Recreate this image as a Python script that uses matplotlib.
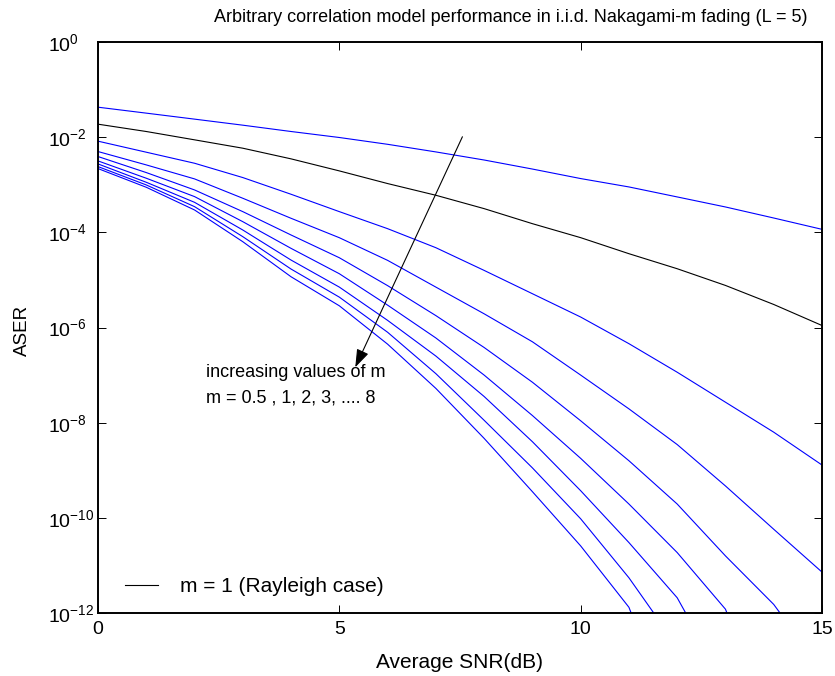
import numpy as np
import matplotlib
matplotlib.use("Agg")
import matplotlib.pyplot as plt
from matplotlib.ticker import NullLocator
from matplotlib.lines import Line2D

plt.rcParams['font.family'] = ['Liberation Sans', 'DejaVu Sans']
plt.rcParams['mathtext.fontset'] = 'custom'
plt.rcParams['mathtext.rm'] = 'Liberation Sans'
plt.rcParams['mathtext.default'] = 'rm'

# average SNR in dB, one point per dB
snr_db = np.arange(16)

# log10(ASER), one list per m (values below 1e-12 are off-axis)
log_aser_m05 = [-1.37, -1.495, -1.621, -1.748, -1.881, -2.007, -2.15, -2.31, -2.48, -2.67,
                -2.87, -3.046, -3.256, -3.467, -3.699, -3.937]
log_aser_m1 = [-1.727, -1.881, -2.056, -2.232, -2.456, -2.709, -2.975, -3.221, -3.502, -3.818,
               -4.112, -4.449, -4.765, -5.116, -5.516, -5.958]
log_aser_m2 = [-2.084, -2.316, -2.548, -2.849, -3.200, -3.565, -3.923, -4.323, -4.80, -5.29,
               -5.78, -6.34, -6.94, -7.57, -8.20, -8.89]
log_aser_m3 = [-2.302, -2.583, -2.877, -3.284, -3.705, -4.113, -4.589, -5.151, -5.712, -6.30,
               -7.0, -7.71, -8.46, -9.33, -10.24, -11.14]
log_aser_m4 = [-2.407, -2.744, -3.109, -3.565, -4.056, -4.534, -5.12, -5.75, -6.42, -7.15,
               -7.96, -8.80, -9.71, -10.80, -11.82, -13.2]
log_aser_m5 = [-2.499, -2.863, -3.249, -3.776, -4.337, -4.870, -5.53, -6.22, -7.0, -7.85,
               -8.75, -9.71, -10.73, -11.92, -14.5, -17.0]
log_aser_m6 = [-2.562, -2.948, -3.369, -3.951, -4.583, -5.151, -5.85, -6.6, -7.45, -8.4,
               -9.43, -10.52, -11.68, -13.5, -16.0, -18.0]
log_aser_m7 = [-2.618, -3.004, -3.460, -4.091, -4.772, -5.362, -6.1, -6.97, -7.95, -8.95,
               -10.02, -11.26, -12.7, -15.0, -17.0, -19.0]
log_aser_m8 = [-2.660, -3.053, -3.530, -4.197, -4.934, -5.544, -6.35, -7.28, -8.33, -9.45,
               -10.59, -11.88, -14.5, -16.5, -18.5, -20.0]

blue_curves = [log_aser_m05, log_aser_m2, log_aser_m3, log_aser_m4,
               log_aser_m5, log_aser_m6, log_aser_m7, log_aser_m8]

fig = plt.figure(figsize=(8.35, 6.76), dpi=100)
ax = fig.add_axes([98 / 835, 1 - 613 / 676, 724 / 835, 571 / 676])

for vals in blue_curves:
    ax.semilogy(snr_db, 10.0 ** np.array(vals), color=(0, 0, 1), lw=0.8)
ax.semilogy(snr_db, 10.0 ** np.array(log_aser_m1), color='k', lw=0.8)

ax.set_xlim(0, 15)
ax.set_ylim(1e-12, 1)
ax.set_xticks([0, 5, 10, 15])
exps = list(range(-12, 1, 2))
ax.set_yticks([10.0 ** k for k in exps])
ax.set_yticklabels([f'$10^{{{k}}}$' for k in exps])
ax.yaxis.set_minor_locator(NullLocator())
ax.tick_params(direction='in', top=True, right=True, length=6, width=0.7, labelsize=14)
ax.tick_params(axis='x', pad=6)
ax.tick_params(axis='y', pad=36)
for lbl in ax.get_yticklabels():
    lbl.set_horizontalalignment('left')
for sp in ax.spines.values():
    sp.set_linewidth(1.4)

# arrow + annotation
ax.annotate('', xy=(5.33, 1.46e-7), xytext=(7.55, 1.02e-2),
            arrowprops=dict(arrowstyle='-|>,head_length=1.0,head_width=0.35',
                            color='k', lw=0.8, mutation_scale=11, shrinkA=0, shrinkB=0))
ax.text(2.24, 10 ** -6.95, 'increasing values of m', fontsize=13, va='center')
ax.text(2.24, 10 ** -7.49, 'm = 0.5 , 1, 2, 3, .... 8', fontsize=13, va='center')

ax.legend(handles=[Line2D([], [], color='k', lw=0.8)], labels=['m = 1 (Rayleigh case)'],
          loc='center left', bbox_to_anchor=(27 / 724, (613 - 586.7) / 571),
          frameon=False, borderpad=0, borderaxespad=0, handlelength=1.6,
          handletextpad=1.05, fontsize=15)

fig.text(511 / 835, 1 - 18 / 676,
         'Arbitrary correlation model performance in i.i.d. Nakagami-m fading (L = 5)',
         fontsize=13, ha='center', va='center')
fig.text(460 / 835, 1 - 662 / 676, 'Average SNR(dB)', fontsize=15, ha='center', va='center')
fig.text(22 / 835, 1 - 330 / 676, 'ASER', fontsize=13.5, rotation=90, ha='center', va='center')

fig.savefig('out.png', dpi=100)
